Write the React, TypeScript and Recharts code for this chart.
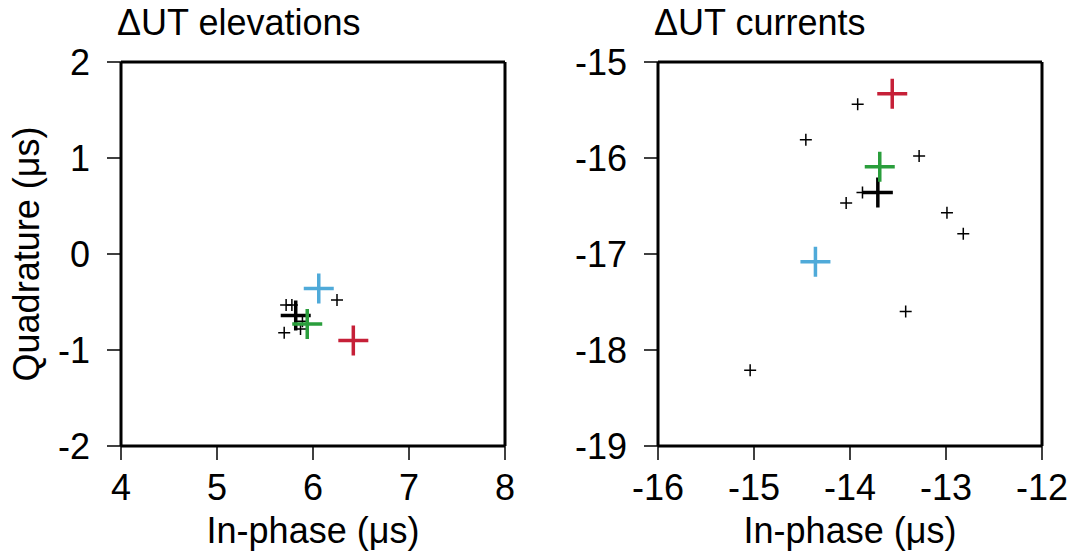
import React from "react";
import { ScatterChart, Scatter, XAxis, YAxis } from "recharts";

// left panel: ΔUT elevations
const elevXTicks = [4, 5, 6, 7, 8];
const elevYTicks = [-2, -1, 0, 1, 2];
const elevSmall = [
  { x: 5.72, y: -0.53 },
  { x: 5.78, y: -0.53 },
  { x: 5.7, y: -0.82 },
  { x: 5.87, y: -0.78 },
  { x: 5.89, y: -0.7 },
  { x: 6.25, y: -0.48 },
];
const elevBlack = [{ x: 5.82, y: -0.64 }];
const elevGreen = [{ x: 5.94, y: -0.73 }];
const elevBlue = [{ x: 6.06, y: -0.36 }];
const elevRed = [{ x: 6.42, y: -0.9 }];

// right panel: ΔUT currents
const currXTicks = [-16, -15, -14, -13, -12];
const currYTicks = [-19, -18, -17, -16, -15];
const currSmall = [
  { x: -13.92, y: -15.44 },
  { x: -14.46, y: -15.81 },
  { x: -13.28, y: -15.98 },
  { x: -14.04, y: -16.47 },
  { x: -13.87, y: -16.36 },
  { x: -12.99, y: -16.57 },
  { x: -12.82, y: -16.79 },
  { x: -13.42, y: -17.6 },
  { x: -15.04, y: -18.21 },
];
const currBlack = [{ x: -13.71, y: -16.36 }];
const currGreen = [{ x: -13.69, y: -16.09 }];
const currBlue = [{ x: -14.36, y: -17.08 }];
const currRed = [{ x: -13.56, y: -15.33 }];

const FONT = "'Liberation Sans', Arial, Helvetica, sans-serif";
const FS = 36;
const tickStyle = { fontFamily: FONT, fontSize: FS, fill: "#000" };
const axisLine = { stroke: "#000", strokeWidth: 3 };
const tickLine = { stroke: "#000", strokeWidth: 1.5 };

const cross = (half: number, color: string, width: number) => (props: any) => {
  const { cx, cy } = props;
  if (cx == null || cy == null) return <g />;
  return (
    <path
      d={`M${cx - half},${cy}H${cx + half}M${cx},${cy - half}V${cy + half}`}
      stroke={color}
      strokeWidth={width}
      fill="none"
    />
  );
};

type PanelProps = {
  title: string;
  xTicks: number[];
  yTicks: number[];
  small: { x: number; y: number }[];
  black: { x: number; y: number }[];
  green: { x: number; y: number }[];
  blue: { x: number; y: number }[];
  red: { x: number; y: number }[];
  yLabel?: string;
};

function Panel({ title, xTicks, yTicks, small, black, green, blue, red, yLabel }: PanelProps) {
  const xDomain = [xTicks[0], xTicks[xTicks.length - 1]];
  const yDomain = [yTicks[0], yTicks[yTicks.length - 1]];
  return (
    <ScatterChart width={537} height={560} margin={{ top: 0, right: 0, bottom: 0, left: 0 }}>
      <XAxis
        xAxisId="b"
        type="number"
        dataKey="x"
        domain={xDomain}
        ticks={xTicks}
        interval={0}
        allowDataOverflow
        height={114}
        tickSize={14}
        tickMargin={14}
        tick={tickStyle}
        axisLine={axisLine}
        tickLine={tickLine}
        label={{
          content: (p: any) => {
            const vb = p.viewBox || {};
            return (
              <text x={vb.x + vb.width / 2} y={vb.y + 97} textAnchor="middle" fontFamily={FONT} fontSize={FS} fill="#000">
                In-phase (μs)
              </text>
            );
          },
        }}
      />
      <XAxis
        xAxisId="t"
        orientation="top"
        type="number"
        domain={xDomain}
        ticks={xTicks}
        interval={0}
        allowDataOverflow
        height={62}
        tickSize={14}
        tick={false}
        axisLine={axisLine}
        tickLine={tickLine}
        label={{
          content: (p: any) => {
            const vb = p.viewBox || {};
            return (
              <text x={vb.x - 4} y={vb.y + 35} textAnchor="start" fontFamily={FONT} fontSize={FS} fill="#000">
                {title}
              </text>
            );
          },
        }}
      />
      <YAxis
        yAxisId="l"
        type="number"
        dataKey="y"
        domain={yDomain}
        ticks={yTicks}
        interval={0}
        allowDataOverflow
        width={121}
        tickSize={14}
        tickMargin={17}
        tick={tickStyle}
        axisLine={axisLine}
        tickLine={tickLine}
        label={
          yLabel
            ? {
                content: (p: any) => {
                  const vb = p.viewBox || {};
                  const cx = vb.x + 39;
                  const cy = vb.y + vb.height / 2;
                  return (
                    <text x={cx} y={cy} transform={`rotate(-90, ${cx}, ${cy})`} textAnchor="middle" fontFamily={FONT} fontSize={FS} fill="#000">
                      {yLabel}
                    </text>
                  );
                },
              }
            : undefined
        }
      />
      <YAxis
        yAxisId="r"
        orientation="right"
        type="number"
        domain={yDomain}
        ticks={yTicks}
        interval={0}
        allowDataOverflow
        width={32}
        tickSize={14}
        tick={false}
        axisLine={axisLine}
        tickLine={tickLine}
      />
      <Scatter xAxisId="b" yAxisId="l" data={small} shape={cross(6, "#000", 1.5)} isAnimationActive={false} />
      <Scatter xAxisId="b" yAxisId="l" data={black} shape={cross(15, "#000", 3.5)} isAnimationActive={false} />
      <Scatter xAxisId="b" yAxisId="l" data={green} shape={cross(15, "#2a9e3c", 3.5)} isAnimationActive={false} />
      <Scatter xAxisId="b" yAxisId="l" data={blue} shape={cross(15, "#4faad9", 3.5)} isAnimationActive={false} />
      <Scatter xAxisId="b" yAxisId="l" data={red} shape={cross(15, "#c62038", 3.5)} isAnimationActive={false} />
    </ScatterChart>
  );
}

export default function App() {
  return (
    <div style={{ position: "absolute", left: 0, top: 0, width: 1074, height: 560, background: "#fff" }}>
      <div style={{ position: "absolute", left: 0, top: 0 }}>
        <Panel
          title="ΔUT elevations"
          xTicks={elevXTicks}
          yTicks={elevYTicks}
          small={elevSmall}
          black={elevBlack}
          green={elevGreen}
          blue={elevBlue}
          red={elevRed}
          yLabel="Quadrature (μs)"
        />
      </div>
      <div style={{ position: "absolute", left: 537, top: 0 }}>
        <Panel
          title="ΔUT currents"
          xTicks={currXTicks}
          yTicks={currYTicks}
          small={currSmall}
          black={currBlack}
          green={currGreen}
          blue={currBlue}
          red={currRed}
        />
      </div>
    </div>
  );
}
